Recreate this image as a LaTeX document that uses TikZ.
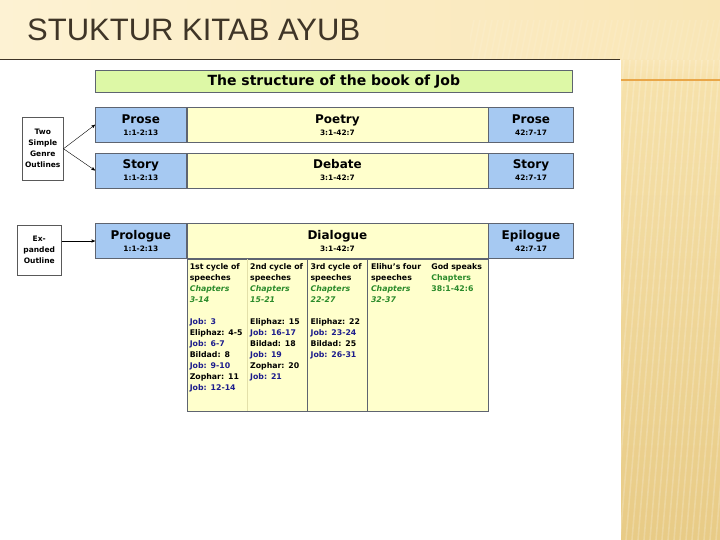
\documentclass[tikz,border=0pt]{standalone}
\usepackage{fontspec}
\setmainfont{DejaVu Sans}
\newfontfamily\slidefont{Liberation Sans}
\usepackage{xcolor}
\usetikzlibrary{arrows,positioning}

\definecolor{cellblue}{HTML}{A6C9F2}
\definecolor{cellyellow}{HTML}{FFFFCC}
\definecolor{bargreen}{HTML}{DDF8A6}
\definecolor{jobblue}{HTML}{1C1C8C}
\definecolor{chapgreen}{HTML}{2A8A2A}
\definecolor{slidebrown}{HTML}{3F3527}
\definecolor{creamA}{HTML}{FDF2D3}
\definecolor{creamB}{HTML}{F9E6B6}
\definecolor{goldA}{HTML}{F6E1AA}
\definecolor{goldB}{HTML}{E8CB86}
\definecolor{orangerule}{HTML}{E9A648}
\definecolor{cellframe}{HTML}{5E6470}

\newcommand{\cellhead}[2]{{\fontsize{12}{13}\selectfont #1}\\{\fontsize{7.4}{10}\selectfont #2}}
\newcommand{\colfont}{\bfseries\fontsize{7.8}{11}\selectfont\spaceskip=0.25em\relax}
\newcommand{\jb}[1]{{\color{jobblue}#1}}
\newcommand{\chap}[1]{{\color{chapgreen}\itshape #1}}
\newcommand{\gsp}[1]{{\color{chapgreen}#1}}

\begin{document}
\begin{tikzpicture}[
    x=1pt, y=-1pt,
    node distance=10pt,
    cell/.style={rectangle, draw=cellframe, line width=0.6pt, minimum height=35pt, inner sep=0pt, align=center, font=\bfseries},
    side/.style={cell, fill=cellblue},
    mid/.style={cell, fill=cellyellow, minimum width=301pt},
    note/.style={rectangle, draw=gray!70!black, line width=0.5pt, align=center, inner sep=0pt, font=\bfseries\fontsize{7.5}{11}\selectfont},
    col/.style={anchor=north west, align=left, text width=54pt, inner xsep=3pt, inner ysep=0pt, font=\colfont},
    arrow/.style={->, >=stealth', thin}
]
\useasboundingbox (0,0) rectangle (720,540);

% slide background
\fill[white] (0,0) rectangle (720,540);
\shade[left color=creamA, right color=creamB] (0,0) rectangle (720,60);
\shade[top color=creamB, bottom color=goldA] (621,60) rectangle (720,80);
\shade[top color=goldA, bottom color=goldB] (621,80) rectangle (720,540);
\begin{scope}
  \clip (621,60) rectangle (720,540);
  \foreach \s in {560,566,...,780}
    \draw[white, opacity=0.2, line width=1.6pt] (\s,540) -- (\s+40,60);
\end{scope}
\begin{scope}
  \clip (470,20) rectangle (720,60);
  \foreach \s in {460,466,...,720}
    \draw[white, opacity=0.1, line width=1.6pt] (\s,60) -- (\s+8,20);
\end{scope}
\draw[slidebrown, line width=1pt] (0,60) -- (620,60);
\draw[orangerule, line width=1.2pt] (621,80) -- (720,80);

\node[anchor=base west, inner sep=0pt, text=slidebrown, font=\slidefont\fontsize{31}{31}\selectfont] (slidetitle) at (27,41) {STUKTUR KITAB AYUB};

% table
\node[rectangle, draw=cellframe, line width=0.6pt, fill=bargreen, minimum width=477pt, minimum height=22pt, inner sep=0pt, anchor=north west, font=\bfseries\fontsize{14}{16}\selectfont] (jobtitle) at (95,70) {The structure of the book of Job};

\node[side, minimum width=91pt, anchor=north west] (prose1) at (95,107) {\cellhead{Prose}{1:1-2:13}};
\node[mid, right=0pt of prose1] (poetry) {\cellhead{Poetry}{3:1-42:7}};
\node[side, minimum width=85pt, right=0pt of poetry] (prose2) {\cellhead{Prose}{42:7-17}};

\node[side, minimum width=91pt, below=of prose1] (story1) {\cellhead{Story}{1:1-2:13}};
\node[mid, right=0pt of story1] (debate) {\cellhead{Debate}{3:1-42:7}};
\node[side, minimum width=85pt, right=0pt of debate] (story2) {\cellhead{Story}{42:7-17}};

\node[side, minimum width=91pt, below=35pt of story1] (prologue) {\cellhead{Prologue}{1:1-2:13}};
\node[mid, right=0pt of prologue] (dialogue) {\cellhead{Dialogue}{3:1-42:7}};
\node[side, minimum width=85pt, right=0pt of dialogue] (epilogue) {\cellhead{Epilogue}{42:7-17}};

\node[rectangle, draw=cellframe, line width=0.6pt, fill=cellyellow, minimum width=301pt, minimum height=152pt, inner sep=0pt, below=0pt of dialogue] (speeches) {};

\node[col, below right=5pt and 0pt of speeches.north west, anchor=north west] (cycle1) {1st cycle of\\speeches\\\chap{Chapters}\\\chap{3-14}\\[11pt]\jb{Job: 3}\\Eliphaz: 4-5\\\jb{Job: 6-7}\\Bildad: 8\\\jb{Job: 9-10}\\Zophar: 11\\\jb{Job: 12-14}};
\node[col, right=0pt of cycle1.north east, anchor=north west] (cycle2) {2nd cycle of\\speeches\\\chap{Chapters}\\\chap{15-21}\\[11pt]Eliphaz: 15\\\jb{Job: 16-17}\\Bildad: 18\\\jb{Job: 19}\\Zophar: 20\\\jb{Job: 21}};
\node[col, right=0pt of cycle2.north east, anchor=north west] (cycle3) {3rd cycle of\\speeches\\\chap{Chapters}\\\chap{22-27}\\[11pt]Eliphaz: 22\\\jb{Job: 23-24}\\Bildad: 25\\\jb{Job: 26-31}};
\node[col, right=0pt of cycle3.north east, anchor=north west] (elihu) {Elihu's four\\speeches\\\chap{Chapters}\\\chap{32-37}};
\node[col, right=0pt of elihu.north east, anchor=north west] (godspeaks) {God speaks\\\gsp{Chapters}\\\gsp{38:1-42:6}};

\draw[olive!25, line width=0.6pt] (cycle2.west |- speeches.north) -- (cycle2.west |- speeches.south);
\draw[cellframe, line width=0.8pt] (cycle3.west |- speeches.north) -- (cycle3.west |- speeches.south);
\draw[cellframe, line width=0.8pt] (elihu.west |- speeches.north) -- (elihu.west |- speeches.south);

% outline labels
\node[note, minimum width=41pt, minimum height=63pt, anchor=north west] (twoout) at (22,117) {Two\\Simple\\Genre\\Outlines};
\node[note, minimum width=44pt, minimum height=50pt, anchor=north west] (expout) at (17,225) {Ex-\\panded\\Outline};

\draw[arrow] (twoout.east) -- (prose1.west);
\draw[arrow] (twoout.east) -- (story1.west);
\draw[arrow] (expout.east |- prologue.west) -- (prologue.west);

\end{tikzpicture}
\end{document}
